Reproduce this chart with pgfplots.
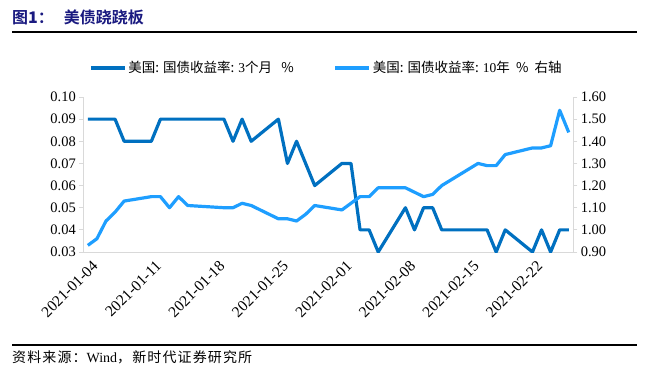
\documentclass[border=0pt]{standalone}
\usepackage{pgfplots}
\pgfplotsset{compat=1.18}
\usepackage{pgfplotstable}
\usepackage{fontspec}
\setmainfont{Liberation Serif}
\newfontfamily\cjk{Noto Sans CJK SC}
\newfontfamily\cjkb{Noto Sans CJK SC Bold}
\definecolor{darkb}{HTML}{0070C0}
\definecolor{lightb}{HTML}{1E9EFF}
\definecolor{navy}{HTML}{1A1A80}
\definecolor{axgray}{HTML}{D9D9D9}
% d = calendar day index from 2021-01-04; s = 3M yield; l = 10Y yield
\pgfplotstableread{
d s l
0 0.09 0.93
1 0.09 0.96
2 0.09 1.04
3 0.09 1.08
4 0.08 1.13
7 0.08 1.15
8 0.09 1.15
9 0.09 1.10
10 0.09 1.15
11 0.09 1.11
15 0.09 1.10
16 0.08 1.10
17 0.09 1.12
18 0.08 1.11
21 0.09 1.05
22 0.07 1.05
23 0.08 1.04
24 0.07 1.07
25 0.06 1.11
28 0.07 1.09
29 0.07 1.12
30 0.04 1.15
31 0.04 1.15
32 0.03 1.19
35 0.05 1.19
36 0.04 1.17
37 0.05 1.15
38 0.05 1.16
39 0.04 1.20
43 0.04 1.30
44 0.04 1.29
45 0.03 1.29
46 0.04 1.34
49 0.03 1.37
50 0.04 1.37
51 0.03 1.38
52 0.04 1.54
53 0.04 1.44
}\data
\begin{document}
\begin{tikzpicture}[x=1pt,y=1pt]
\path[use as bounding box] (0,0) rectangle (652,383);
% title
\node[anchor=west, inner sep=0pt, text=navy, font=\cjkb\fontsize{16}{18}\selectfont] at (12,366) {图{\bfseries 1}：\hspace{10pt}美债跷跷板};
\draw[line width=1.2pt] (12,351) -- (637,351);
\draw[line width=1.2pt] (12,38) -- (637,38);
\node[anchor=west, inner sep=0pt, font=\cjk\fontsize{14}{16}\selectfont\addfontfeature{LetterSpace=8}] at (12,26) {资料来源：{\rmfamily Wind}，新时代证券研究所};
\pgfplotsset{
  common/.style={
    at={(83.3pt,131pt)}, anchor=south west,
    scale only axis, width=490pt, height=155pt,
    xmin=-0.5, xmax=53.5,
    xtick={0,7,14,21,28,35,42,49},
    axis line style={draw=axgray, line width=0.8pt},
    tick style={draw=axgray, line width=0.8pt},
    major tick length=4pt,
    tick align=outside,
    tick label style={font=\fontsize{14.5}{16}\selectfont},
    /pgf/number format/assume math mode=true,
    yticklabel style={/pgf/number format/fixed, /pgf/number format/fixed zerofill, /pgf/number format/precision=2},
  }
}
\begin{axis}[common,
  axis x line*=bottom, axis y line*=left,
  ymin=0.03, ymax=0.10, ytick={0.03,0.04,...,0.101},
  xticklabels={2021-01-04,2021-01-11,2021-01-18,2021-01-25,2021-02-01,2021-02-08,2021-02-15,2021-02-22},
  xtick style={draw=none},
  xticklabel style={rotate=45, anchor=north east, inner sep=1pt, yshift=-4pt, xshift=1pt, font=\fontsize{15.5}{17}\selectfont},
  legend columns=2,
  legend style={at={(0.496,1.187)}, anchor=center, draw=none, fill=none,
    font=\cjk\fontsize{13.5}{15}\selectfont, /tikz/every even column/.append style={column sep=38pt}},
  legend image code/.code={\draw[#1] (0pt,0pt) -- (34pt,0pt);},
]
\addplot[darkb, line width=3.2pt, line join=round] table[x=d, y=s] {\data};
\addlegendentry{美国: 国债收益率: {\rmfamily 3}个月\ \ \ \%}
\addlegendimage{lightb, line width=3.2pt}
\addlegendentry{美国: 国债收益率: {\rmfamily 10}年\ \ \%\ \ 右轴}
\end{axis}
\begin{axis}[common,
  axis x line=none, axis y line*=right,
  ymin=0.9, ymax=1.6, ytick={0.9,1.0,...,1.61},
  xticklabels={},
]
\addplot[lightb, line width=3.2pt, line join=round] table[x=d, y=l] {\data};
\end{axis}
\end{tikzpicture}
\end{document}
